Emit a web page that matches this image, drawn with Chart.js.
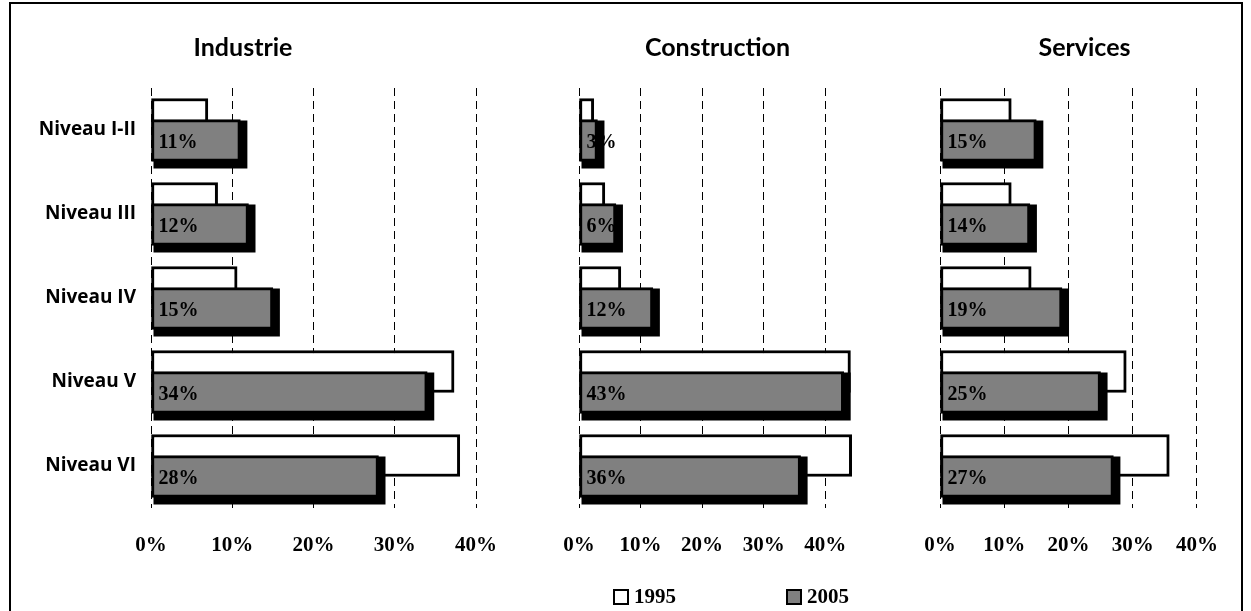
<!DOCTYPE html>
<html>
<head>
<meta charset="utf-8">
<script src="https://cdn.jsdelivr.net/npm/chart.js@4"></script>
<style>
    body { margin: 0; background: #fff; }
    #page { position: relative; width: 1251px; height: 611px; overflow: hidden; }
    #frame { position: absolute; left: 9px; top: 2px; width: 1230px; height: 640px; border: 2px solid #000; }
    canvas { position: absolute; top: 10px; }
    #legend { position: absolute; top: 584px; left: 0; width: 1251px; height: 24px; }
    .legend-item { position: absolute; top: 0; display: flex; align-items: center; font: bold 21px "Liberation Serif", serif; color: #000; }
    .legend-box { width: 12px; height: 12px; border: 2px solid #000; margin-right: 5px; }
</style>
</head>
<body>
<div id="page">
    <div id="frame"></div>
    <canvas id="industrieChart" width="648" height="590" style="left:10px"></canvas>
    <canvas id="constructionChart" width="310" height="590" style="left:560px"></canvas>
    <canvas id="servicesChart" width="324" height="590" style="left:910px"></canvas>
    <div id="legend"></div>
</div>
<script>
// Share of each level per sector, 1995 vs 2005 (%)
const categories = ['Niveau I-II', 'Niveau III', 'Niveau IV', 'Niveau V', 'Niveau VI'];
const years = ['1995', '2005'];

const industrie1995 = [7, 8.2, 10.6, 37.3, 38];
const industrie2005 = [11, 12, 15, 34, 28];

const construction1995 = [2.4, 4.2, 6.8, 44.1, 44.3];
const construction2005 = [3, 6, 12, 43, 36];

const services1995 = [11.1, 11.1, 14.2, 29, 35.7];
const services2005 = [15, 14, 19, 25, 27];

const xTicks = [0, 10, 20, 30, 40];

const serifFont = '"Liberation Serif", "Times New Roman", serif';

// 2005 bars go on top of the 1995 ones, with a hard black shadow and their value inside
const frontBars = {
    id: 'frontBars',
    beforeDatasetDraw(chart, args) {
        if (args.index === 1) return false;
    },
    afterDatasetsDraw(chart) {
        const ctx = chart.ctx;
        const meta = chart.getDatasetMeta(1);
        const values = chart.data.datasets[1].data;

        ctx.save();
        ctx.fillStyle = '#000';
        meta.data.forEach(bar => {
            const p = bar.getProps(['x', 'y', 'base', 'height'], true);
            ctx.fillRect(p.base + 2, p.y - p.height / 2 + 1, p.x - p.base + 5, p.height + 6);
        });
        ctx.restore();

        meta.controller.draw();

        ctx.save();
        ctx.font = 'bold 20px ' + serifFont;
        ctx.fillStyle = '#000';
        ctx.textAlign = 'left';
        ctx.textBaseline = 'middle';
        meta.data.forEach((bar, i) => {
            const p = bar.getProps(['y', 'base'], true);
            ctx.fillText(values[i] + '%', p.base + 7, p.y + 2);
        });
        ctx.restore();
    }
};

function makeChart(canvasId, title, data1995, data2005, opts) {
    const ctx = document.getElementById(canvasId).getContext('2d');
    return new Chart(ctx, {
        type: 'bar',
        data: {
            labels: categories,
            datasets: [{
                label: years[0],
                data: data1995,
                backgroundColor: '#ffffff',
                borderColor: '#000000',
                borderWidth: 3,
                borderSkipped: false,
                categoryPercentage: 0.5,
                barPercentage: 2
            }, {
                label: years[1],
                data: data2005,
                backgroundColor: '#808080',
                borderColor: '#000000',
                borderWidth: 3,
                borderSkipped: false,
                categoryPercentage: 0.5,
                barPercentage: 2
            }]
        },
        options: {
            indexAxis: 'y',
            responsive: false,
            animation: false,
            devicePixelRatio: 1,
            layout: {
                padding: { top: 22, bottom: 0, left: opts.padLeft, right: opts.padRight }
            },
            plugins: {
                legend: { display: false },
                tooltip: { enabled: false },
                title: {
                    display: true,
                    text: title,
                    color: '#000',
                    font: { family: 'Lato, "Open Sans", sans-serif', weight: 'bold', size: 25 },
                    padding: { top: 1, bottom: 25 }
                }
            },
            scales: {
                x: {
                    min: 0,
                    max: opts.max,
                    afterBuildTicks: scale => {
                        scale.ticks = xTicks.map(v => ({ value: v }));
                    },
                    afterFit: scale => {
                        scale.height = 92;
                        // keep the plot edges where the layout padding puts them
                        scale.paddingLeft = 0;
                        scale.paddingRight = 0;
                    },
                    grid: { color: '#000', lineWidth: 1, drawTicks: false },
                    border: { display: false, dash: [8, 5] },
                    ticks: {
                        padding: 25,
                        color: '#000',
                        font: { family: serifFont, weight: 'bold', size: 21 },
                        callback: v => v + '%'
                    }
                },
                y: {
                    display: opts.showLabels,
                    afterFit: scale => { scale.width = opts.labelWidth; },
                    grid: { display: false, drawTicks: false },
                    border: { display: false },
                    ticks: {
                        padding: 15,
                        color: '#000',
                        font: { family: '"Open Sans", sans-serif', weight: 'bold', size: 19 }
                    }
                }
            }
        },
        plugins: [frontBars]
    });
}

makeChart('industrieChart', 'Industrie', industrie1995, industrie2005,
    { max: 40, padLeft: 0, padRight: 182, showLabels: true, labelWidth: 141 });
const constructionChart = makeChart('constructionChart', 'Construction', construction1995, construction2005,
    { max: 45, padLeft: 19, padRight: 14, showLabels: false, labelWidth: 0 });
makeChart('servicesChart', 'Services', services1995, services2005,
    { max: 45, padLeft: 30, padRight: 5, showLabels: false, labelWidth: 0 });

// Shared legend under the middle panel
const legendEl = document.getElementById('legend');
const legendLeft = [613, 786];
const items = constructionChart.options.plugins.legend.labels.generateLabels(constructionChart);
items.forEach((item, i) => {
    const el = document.createElement('div');
    el.className = 'legend-item';
    el.style.left = legendLeft[i] + 'px';
    el.innerHTML = `<span class="legend-box" style="background:${item.fillStyle}"></span><span>${item.text}</span>`;
    legendEl.appendChild(el);
});
</script>
</body>
</html>
